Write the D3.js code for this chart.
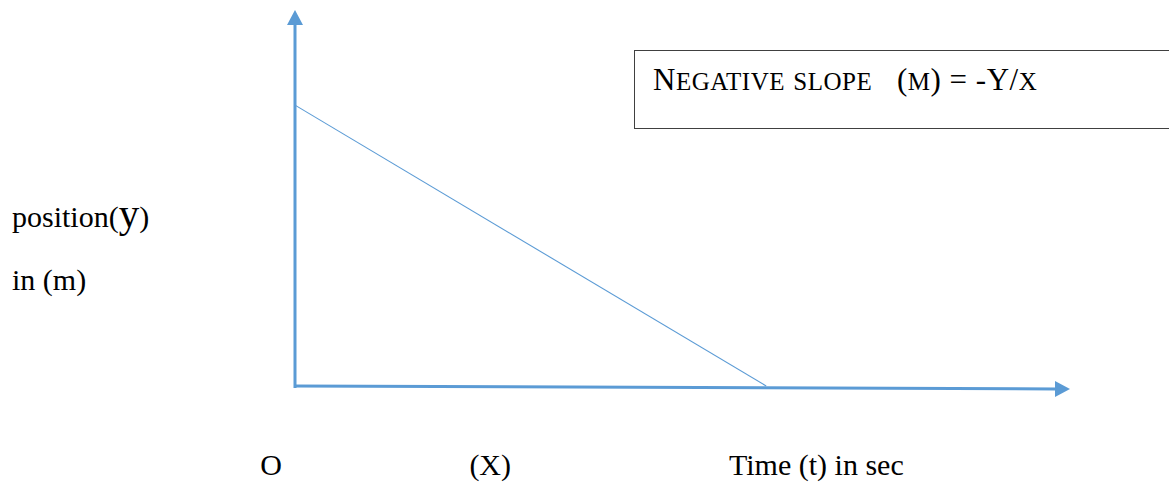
<!DOCTYPE html>
<html><head><meta charset="utf-8">
<script src="https://cdn.jsdelivr.net/npm/d3@7"></script>
<style>
html,body{margin:0;padding:0;background:#fff;}
svg{display:block;}
text{font-family:"Liberation Serif","Times New Roman",serif;fill:#000;}
</style></head>
<body>
<svg id="chart" width="1169" height="484"></svg>
<script>
// ---- data ----
const timeValues = [0, 6.08];        // t where line starts / ends (X intercept)
const positionValues = [7.47, 0];    // position at those times
const xAxisT = [0, 10];              // x axis extent (time)
const xAxisY = [0, -0.08];           // slight drawn tilt of the axis
const yAxisY = [0, 10];              // y axis extent (position)
const bottomLabels = ["O", "(X)", "Time (t) in sec"];
const bottomLabelT = [-0.45, 2.25, 5.6];
const yLabels = ["position", "in (m)"];
const boxText = "Negative slope\u00a0\u00a0 (m) = -Y/x";

const W = 1169, H = 484;
const svg = d3.select("#chart");
const x = d3.scaleLinear().domain([0, 10]).range([295, 1070]);
const y = d3.scaleLinear().domain([0, 10]).range([386, 10]);
const blue = "#5B9BD5";

// line
const lineGen = d3.line().x(d => x(d[0])).y(d => y(d[1]));
svg.append("path")
  .datum(d3.zip(timeValues, positionValues))
  .attr("d", lineGen)
  .attr("fill", "none").attr("stroke", blue).attr("stroke-width", 1.1);

// y axis with arrow
const headLen = 15, headHalf = 8;
svg.append("line")
  .attr("x1", x(0)).attr("y1", y(yAxisY[0]) + 2)
  .attr("x2", x(0)).attr("y2", y(yAxisY[1]) + headLen - 1)
  .attr("stroke", blue).attr("stroke-width", 3);
svg.append("path")
  .attr("d", `M${x(0)},${y(yAxisY[1])} L${x(0)-headHalf},${y(yAxisY[1])+headLen} L${x(0)+headHalf},${y(yAxisY[1])+headLen} Z`)
  .attr("fill", blue);

// x axis with arrow
const xe = x(xAxisT[1]), ye = y(xAxisY[1]);
svg.append("line")
  .attr("x1", x(xAxisT[0]) - 1).attr("y1", y(xAxisY[0]))
  .attr("x2", xe - headLen + 1).attr("y2", ye)
  .attr("stroke", blue).attr("stroke-width", 3);
svg.append("path")
  .attr("d", `M${xe},${ye} L${xe-headLen},${ye-headHalf} L${xe-headLen},${ye+headHalf} Z`)
  .attr("fill", blue);

// box with text (Word-style small caps: capitals large, lower case as small capitals)
svg.append("rect")
  .attr("x", 634.5).attr("y", 50.5).attr("width", 560).attr("height", 78)
  .attr("fill", "#fff").attr("stroke", "#404040").attr("stroke-width", 1);
const bt = svg.append("text")
  .attr("x", 653).attr("y", 90)
  .style("letter-spacing", "0.5px");
boxText.split("").forEach(ch => {
  const small = ch !== ch.toUpperCase();
  bt.append("tspan")
    .style("font-size", small ? "25px" : "31px")
    .text(small ? ch.toUpperCase() : ch);
});

// y labels
const yl = svg.append("text").attr("x", 12).attr("y", 227).style("font-size", "30px");
yl.append("tspan").text(yLabels[0]);
yl.append("tspan").text("(");
yl.append("tspan").style("font-size", "41px").text("y");
yl.append("tspan").text(")");
svg.append("text").attr("x", 12).attr("y", 290).style("font-size", "30px").text(yLabels[1]);

// bottom labels
svg.selectAll("text.bl").data(bottomLabels).enter().append("text")
  .attr("class", "bl")
  .attr("x", (d, i) => x(bottomLabelT[i]))
  .attr("y", 475)
  .style("font-size", "30px")
  .text(d => d);
</script>
</body></html>
